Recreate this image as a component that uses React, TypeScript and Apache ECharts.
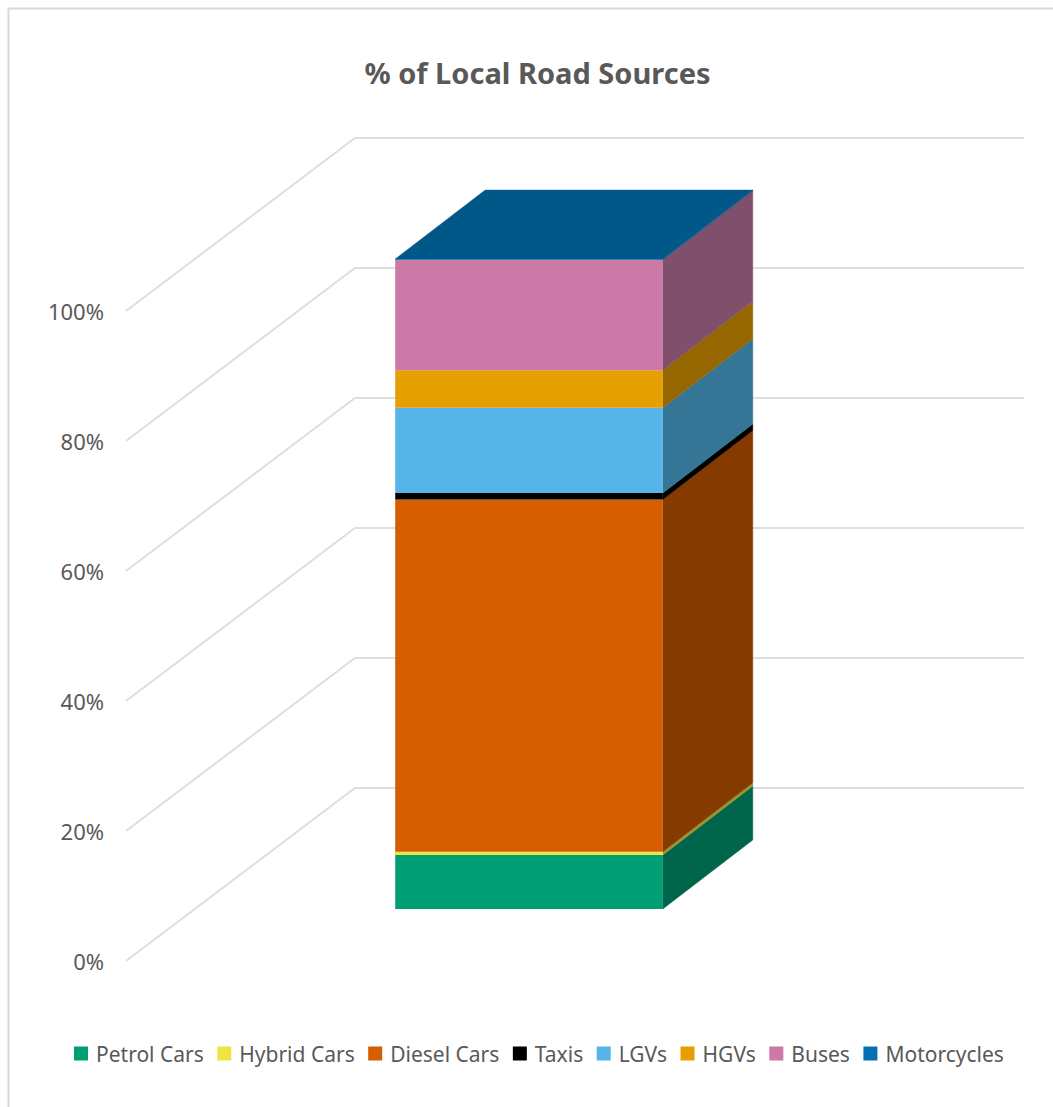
import React, { useEffect, useRef } from "react";
import * as echarts from "echarts";

const categories = ["All Sources"];
const seriesNames = ["Petrol Cars", "Hybrid Cars", "Diesel Cars", "Taxis", "LGVs", "HGVs", "Buses", "Motorcycles"];
const seriesValues = [8.3, 0.5, 54.2, 1.0, 13.1, 5.8, 17.0, 0.1];
const frontColors = ["#009E73", "#F0E442", "#D55E00", "#000000", "#56B4E9", "#E69F00", "#CC79A7", "#0072B2"];
const sideColors = ["#00664B", "#9C942B", "#853A00", "#000000", "#357596", "#966700", "#804F6B", "#005889"];
const topColor = "#005889";
const yTicks = [0, 20, 40, 60, 80, 100];

const FONT = "'Noto Sans', 'Open Sans', sans-serif";
const WALL_DX = 229;
const WALL_DY = 173;
const BAR_DX = 90;
const BAR_DY = 69;
const BAR_WIDTH_RATIO = 0.4;

export default function App() {
  const ref = useRef<HTMLDivElement>(null);
  useEffect(() => {
    const chart = echarts.init(ref.current!, undefined, { renderer: "svg" });

    let running = 0;
    const stacks = seriesValues.map((v) => {
      const start = running;
      running += v;
      return [0, start, running];
    });

    const gridSeries = {
      type: "custom",
      name: "gridlines",
      silent: true,
      data: yTicks.map((t) => [0, t]),
      encode: { x: 0, y: 1 },
      renderItem: (_p: any, api: any) => {
        const c = api.coord([api.value(0), api.value(1)]);
        const band = api.size([1, 0])[0];
        const left = c[0] - band / 2;
        const right = c[0] + band / 2;
        return {
          type: "polyline",
          shape: {
            points: [
              [left, c[1]],
              [left + WALL_DX, c[1] - WALL_DY],
              [right + WALL_DX, c[1] - WALL_DY],
            ],
          },
          style: { stroke: "#DEDEDE", lineWidth: 2, fill: "none" },
        };
      },
    };

    const barSeries = seriesNames.map((name, i) => ({
      type: "custom",
      name,
      silent: true,
      itemStyle: { color: frontColors[i] },
      data: [stacks[i]],
      encode: { x: 0, y: [1, 2] },
      renderItem: (_p: any, api: any) => {
        const cat = api.value(0);
        const b = api.coord([cat, api.value(1)]);
        const t = api.coord([cat, api.value(2)]);
        const band = api.size([1, 0])[0];
        const w = band * BAR_WIDTH_RATIO;
        // The bar stands in the middle of the floor's depth.
        const ox = (WALL_DX - BAR_DX) / 2 - 1;
        const oy = -(WALL_DY - BAR_DY) / 2;
        const x0 = b[0] - w / 2 + ox;
        const x1 = b[0] + w / 2 + ox;
        const yb = b[1] + oy;
        const yt = t[1] + oy;
        const children: any[] = [
          {
            type: "polygon",
            shape: { points: [[x1, yb], [x1 + BAR_DX, yb - BAR_DY], [x1 + BAR_DX, yt - BAR_DY], [x1, yt]] },
            style: { fill: sideColors[i], stroke: sideColors[i], lineWidth: 0.4 },
          },
          {
            type: "rect",
            shape: { x: x0, y: yt, width: x1 - x0, height: yb - yt },
            style: { fill: frontColors[i] },
          },
        ];
        if (i === seriesNames.length - 1) {
          children.push({
            type: "polygon",
            shape: { points: [[x0, yt], [x1, yt], [x1 + BAR_DX, yt - BAR_DY], [x0 + BAR_DX, yt - BAR_DY]] },
            style: { fill: topColor, stroke: topColor, lineWidth: 0.4 },
          });
        }
        return { type: "group", children };
      },
    }));

    chart.setOption({
      animation: false,
      backgroundColor: "#FFFFFF",
      title: {
        text: "% of Local Road Sources",
        left: 532.5,
        top: 53,
        textAlign: "center",
        textStyle: { fontFamily: FONT, fontSize: 29, fontWeight: 700, color: "#595959" },
      },
      legend: {
        data: seriesNames,
        left: 74,
        top: 1043,
        padding: 0,
        icon: "rect",
        itemWidth: 14,
        itemHeight: 14,
        itemGap: 13.5,
        selectedMode: false,
        textStyle: { fontFamily: FONT, fontSize: 21, color: "#595959", padding: [0, 0, 0, 3] },
      },
      grid: { left: 126, top: 311, width: 669, height: 650, containLabel: false },
      xAxis: {
        type: "category",
        data: categories,
        axisLabel: { show: false },
        axisTick: { show: false },
        axisLine: { show: false },
      },
      yAxis: {
        type: "value",
        min: 0,
        max: 100,
        interval: 20,
        axisLine: { show: false },
        axisTick: { show: false },
        splitLine: { show: false },
        axisLabel: { formatter: "{value}%", margin: 22, fontFamily: FONT, fontSize: 22, color: "#595959" },
      },
      graphic: [
        {
          type: "polyline",
          silent: true,
          shape: { points: [[8.5, 1107], [8.5, 8.5], [1053, 8.5]] },
          style: { stroke: "#D9D9D9", lineWidth: 2, fill: "none" },
        },
      ],
      series: [gridSeries, ...barSeries],
    });
    return () => chart.dispose();
  }, []);
  return <div ref={ref} style={{ position: "fixed", left: 0, top: 0, width: 1053, height: 1107 }} />;
}
